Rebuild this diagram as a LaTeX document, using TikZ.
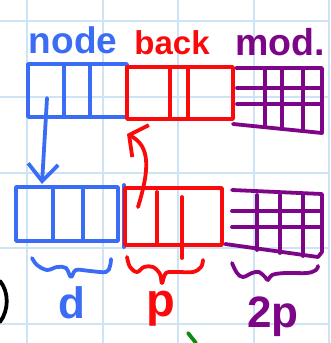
\documentclass[tikz,border=0pt]{standalone}
\usepackage{fontspec}
\setmainfont{Liberation Sans}
\usetikzlibrary{arrows.meta}
\definecolor{pblue}{RGB}{59,108,245}
\definecolor{pred}{RGB}{250,10,10}
\definecolor{ppurple}{RGB}{125,5,135}
\definecolor{gridc}{RGB}{204,228,244}
\definecolor{pgreen}{RGB}{10,140,20}
\tikzset{
  ink/.style={line width=3.8pt, line cap=round, line join=round},
  cellbox/.style={ink, draw, rectangle, inner sep=0pt, outer sep=0pt, anchor=north west},
  gridbox/.style={rectangle, inner sep=0pt, outer sep=0pt, anchor=north west},
  lbl/.style={anchor=base, inner sep=0pt},
  gridline/.style={gridc, line width=2pt},
  bigarrow/.style={ink, -{Straight Barb[length=17pt,width=30pt,line width=3.8pt]}},
  redarrow/.style={ink, -{Straight Barb[length=13pt,width=36pt,line width=3.8pt]}},
}
\begin{document}
\begin{tikzpicture}[x=1pt,y=-1pt]
\useasboundingbox (0,0) rectangle (330,343);
\fill[white] (0,0) rectangle (330,343);
% grid paper
\foreach \x in {27,102.5,178,253.5,329} \draw[gridline] (\x,0) -- (\x,343);
\foreach \y in {21,97,172.5,248,323.5} \draw[gridline] (0,\y) -- (330,\y);

% labels top
\node[lbl, text=pblue, font=\fontsize{37}{39}\selectfont\bfseries] (lnode) at (73,53) {node};
\node[lbl, text=pred, font=\fontsize{33}{35}\selectfont\bfseries] (lback) at (172,54) {back};
\node[lbl, text=ppurple, font=\fontsize{37.5}{39}\selectfont\bfseries] (lmod) at (280,55) {mod.};

% top row
\node[gridbox, minimum width=90pt, minimum height=62pt] (ptop) at (233,68) {};
\begin{scope}[ppurple, ink]
  \draw (236,68) -- (322,68) -- (322,133) -- (233,124);
  \draw (237,88) -- (322,88);
  \draw (237,104) -- (322,104);
  \draw (265,70) -- (265,127);
  \draw (282,70) -- (282,129);
  \draw (303,70) -- (303,131);
\end{scope}
\node[cellbox, pblue, minimum width=99pt, minimum height=53pt] (btop) at (28,64) {};
\draw[pblue, ink] (64,64) -- (64,117) (90,64) -- (90,117);
\node[cellbox, pred, minimum width=106pt, minimum height=52pt] (rtop) at (127,67) {};
\draw[pred, ink] (170,67) -- (170,119) (188,67) -- (188,119);

% bottom row
\node[gridbox, minimum width=97pt, minimum height=66pt] (pbot) at (225,190) {};
\begin{scope}[ppurple, ink]
  \draw (232,190) -- (322,194) -- (322,252) -- (318,257) -- (225,244);
  \draw (232,211) -- (322,211);
  \draw (232,227) -- (322,227);
  \draw (257,195) -- (257,250);
  \draw (280,195) -- (280,253);
  \draw (303,195) -- (303,256);
\end{scope}
\node[cellbox, pblue, minimum width=102pt, minimum height=54pt] (bbot) at (16,187) {};
\draw[pblue, ink] (53,187) -- (53,241) (83,187) -- (83,241);
\draw[pblue, ink] (124,185) -- (124,247);
\node[cellbox, pred, minimum width=97pt, minimum height=57pt] (rbot) at (125,188) {};
\draw[pred, ink] (157,192) -- (157,243) (182,197) -- (182,258);

% arrows
\coordinate (bstart) at (47,98);
\coordinate (bend) at (42,184);
\draw[pblue, bigarrow] (bstart) -- (bend);
\coordinate (rstart) at (138,207);
\coordinate (rend) at (127,134);
\draw[pred, redarrow] (rstart) .. controls (150,168) and (150,146) .. (rend);

% braces
\draw[pblue, ink] plot[smooth, tension=0.6] coordinates {(32,258) (37,265) (47,270) (57,267) (66,268) (71,277) (76,270) (90,271) (106,272) (110,266) (111,259)};
\draw[pred, ink] plot[smooth, tension=0.6] coordinates {(127,257) (130,267) (137,272) (144,267) (153,267) (160,274) (162,283) (166,273) (177,272) (193,272) (201,267) (203,260)};
\draw[ppurple, ink] plot[smooth, tension=0.6] coordinates {(232,263) (237,273) (243,277) (252,273) (259,272) (265,277) (268,280) (272,275) (285,273) (307,273) (316,270) (318,266)};

% bottom labels
\node[lbl, text=pblue, font=\fontsize{44}{46}\selectfont\bfseries] (ld) at (72,318) {d};
\node[lbl, text=pred, font=\fontsize{47}{49}\selectfont\bfseries] (lp) at (161,316) {p};
\node[lbl, text=ppurple, font=\fontsize{44}{46}\selectfont\bfseries] (l2p) at (273,327) {2p};

% stray strokes
\draw[black, ink] (0,281) .. controls (9,292) and (9,310) .. (0,322);
\draw[pgreen, ink] (188,333) -- (196,343);
\end{tikzpicture}
\end{document}
